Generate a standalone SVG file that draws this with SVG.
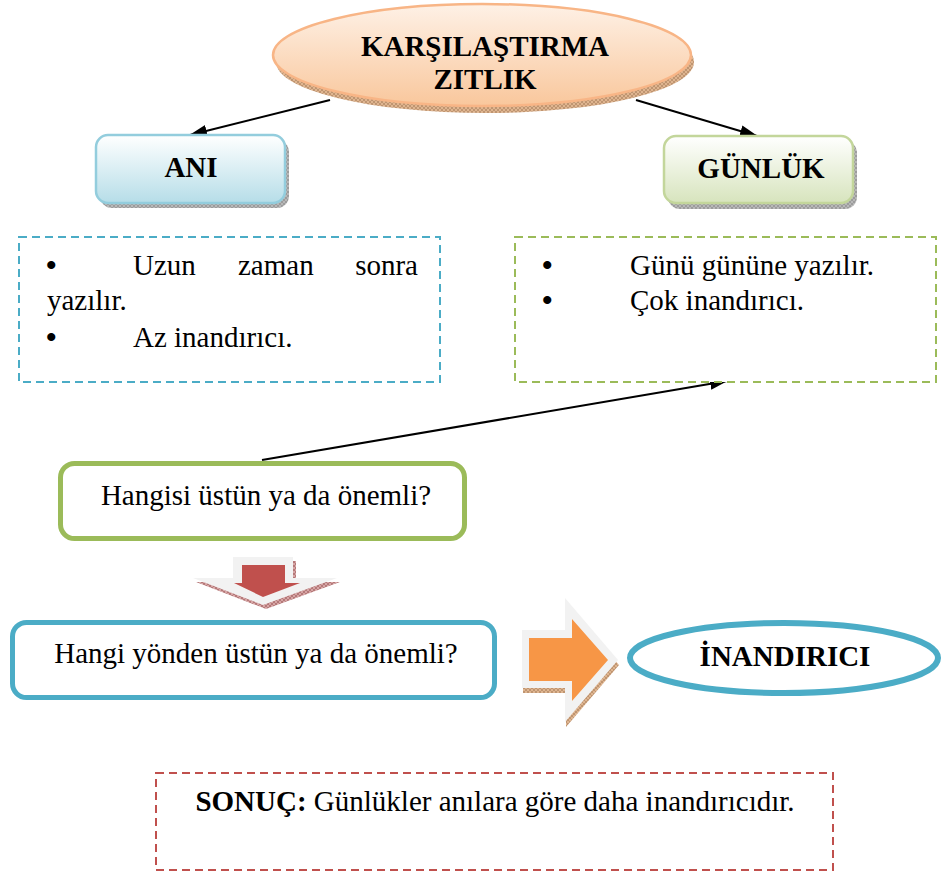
<svg xmlns="http://www.w3.org/2000/svg" width="942" height="873" viewBox="0 0 942 873" font-family="'Liberation Serif', 'Times New Roman', serif">
<style>
  .t { font-family: 'Liberation Serif', 'Times New Roman', serif; font-size: 29px; fill: #000; }
  .bul { font-size: 30px; font-weight: bold; }
  .b { font-weight: bold; }
  .c { text-anchor: middle; }
  .conn { stroke: #000; stroke-width: 2; fill: none; marker-end: url(#arr); }
  .dash { fill: #fff; stroke-width: 2; stroke-dasharray: 8 5; }
</style>
<defs>
  <marker id="arr" viewBox="0 0 18 12" refX="17" refY="6" markerWidth="18" markerHeight="12" markerUnits="userSpaceOnUse" orient="auto">
    <path d="M0,0 L18,6 L0,12 z" fill="#000"/>
  </marker>
  <pattern id="hGray" width="4" height="4" patternUnits="userSpaceOnUse">
    <rect width="4" height="4" fill="#b8b8b8"/>
    <path d="M0,4 L4,0 M0,0 L4,4" stroke="#8a8a8a" stroke-width="0.6"/>
  </pattern>
  <pattern id="hTan" width="4" height="4" patternUnits="userSpaceOnUse">
    <rect width="4" height="4" fill="#dfb590"/>
    <path d="M0,4 L4,0 M0,0 L4,4" stroke="#a9805c" stroke-width="0.6"/>
  </pattern>
  <pattern id="hRed" width="4" height="4" patternUnits="userSpaceOnUse">
    <rect width="4" height="4" fill="#d7a5a5"/>
    <path d="M0,4 L4,0 M0,0 L4,4" stroke="#9c5a5a" stroke-width="0.6"/>
  </pattern>
  <linearGradient id="gOrange" x1="0" y1="0" x2="0" y2="1">
    <stop offset="0" stop-color="#fef1e6"/>
    <stop offset="1" stop-color="#f9c79c"/>
  </linearGradient>
  <linearGradient id="gBlue" x1="0" y1="0" x2="0" y2="1">
    <stop offset="0" stop-color="#ffffff"/>
    <stop offset="1" stop-color="#b6dde8"/>
  </linearGradient>
  <linearGradient id="gGreen" x1="0" y1="0" x2="0" y2="1">
    <stop offset="0" stop-color="#ffffff"/>
    <stop offset="1" stop-color="#d7e4bd"/>
  </linearGradient>
</defs>
<rect width="942" height="873" fill="#fff"/>

<g id="connectors">
  <line class="conn" x1="330" y1="100" x2="190" y2="135"/>
  <line class="conn" x1="636" y1="100" x2="757" y2="136"/>
  <line class="conn" x1="262" y1="460" x2="727" y2="381"/>
</g>

<g id="node-karsilastirma">
  <ellipse cx="485" cy="62" rx="209" ry="51" fill="url(#hTan)"/>
  <ellipse cx="482" cy="55" rx="209" ry="51" fill="url(#gOrange)" stroke="#f8b586" stroke-width="2.5"/>
  <text class="t b c" x="485" y="56">KARŞILAŞTIRMA</text>
  <text class="t b c" x="485" y="89">ZITLIK</text>
</g>

<g id="node-ani">
  <rect x="100" y="140" width="189" height="68" rx="12" fill="url(#hGray)"/>
  <rect x="96" y="135" width="189" height="68" rx="12" fill="url(#gBlue)" stroke="#93cddd" stroke-width="2.5"/>
  <text class="t b c" x="191" y="177">ANI</text>
</g>

<g id="node-gunluk">
  <rect x="668" y="141" width="189" height="68" rx="12" fill="url(#hGray)"/>
  <rect x="664" y="136" width="189" height="67" rx="12" fill="url(#gGreen)" stroke="#c3d69b" stroke-width="2.5"/>
  <text class="t b c" x="761" y="178">GÜNLÜK</text>
</g>

<g id="node-ani-notes">
  <rect class="dash" x="19" y="237" width="421" height="145" stroke="#4bacc6"/>
  <text class="t bul" x="46" y="275">•</text>
  <text class="t" x="133" y="275">Uzun</text>
  <text class="t" x="238" y="275">zaman</text>
  <text class="t" x="418" y="275" text-anchor="end">sonra</text>
  <text class="t" x="47" y="310">yazılır.</text>
  <text class="t bul" x="46" y="347">•</text>
  <text class="t" x="133" y="347">Az inandırıcı.</text>
</g>

<g id="node-gunluk-notes">
  <rect class="dash" x="515" y="237" width="421" height="145" stroke="#9bbb59"/>
  <text class="t bul" x="542" y="275">•</text>
  <text class="t" x="630" y="275">Günü gününe yazılır.</text>
  <text class="t bul" x="542" y="310">•</text>
  <text class="t" x="630" y="310">Çok inandırıcı.</text>
</g>

<g id="node-hangisi">
  <rect x="60.5" y="463.5" width="404" height="75" rx="14" fill="#fff" stroke="#9bbb59" stroke-width="5"/>
  <text class="t c" x="266" y="505">Hangisi üstün ya da önemli?</text>
</g>

<g id="node-down-arrow">
  <polygon points="236,561 296,561 296,582 340,582 266,609 196,582 236,582" fill="url(#hRed)"/>
  <polygon points="233,557 293,557 293,578 337,578 263,605 193,578 233,578" fill="#f2f2f2"/>
  <polygon points="242,565 285,565 285,583 300,583 263,597 234,583 242,583" fill="#c0504d"/>
</g>

<g id="node-hangi-yonden">
  <rect x="12.5" y="622.5" width="482" height="75" rx="14" fill="#fff" stroke="#4bacc6" stroke-width="5"/>
  <text class="t c" x="256" y="663">Hangi yönden üstün ya da önemli?</text>
</g>

<g id="node-right-arrow">
  <polygon points="523,635 566,635 566,603 619,665 566,727 566,693 523,693" fill="url(#hTan)"/>
  <polygon points="522,630 565,630 565,598 618,660 565,722 565,688 522,688" fill="#f2f2f2"/>
  <polygon points="529,638 572,638 572,619 608,660 572,701 572,681 529,681" fill="#f79646"/>
</g>

<g id="node-inandirici">
  <ellipse cx="784" cy="658" rx="154" ry="35" fill="#fff" stroke="#4bacc6" stroke-width="6"/>
  <text class="t b c" x="785" y="666">İNANDIRICI</text>
</g>

<g id="node-sonuc">
  <rect class="dash" x="156" y="773" width="677" height="97" stroke="#c0504d"/>
  <text class="t c" x="495" y="811"><tspan class="b">SONUÇ:</tspan> Günlükler anılara göre daha inandırıcıdır.</text>
</g>
</svg>
